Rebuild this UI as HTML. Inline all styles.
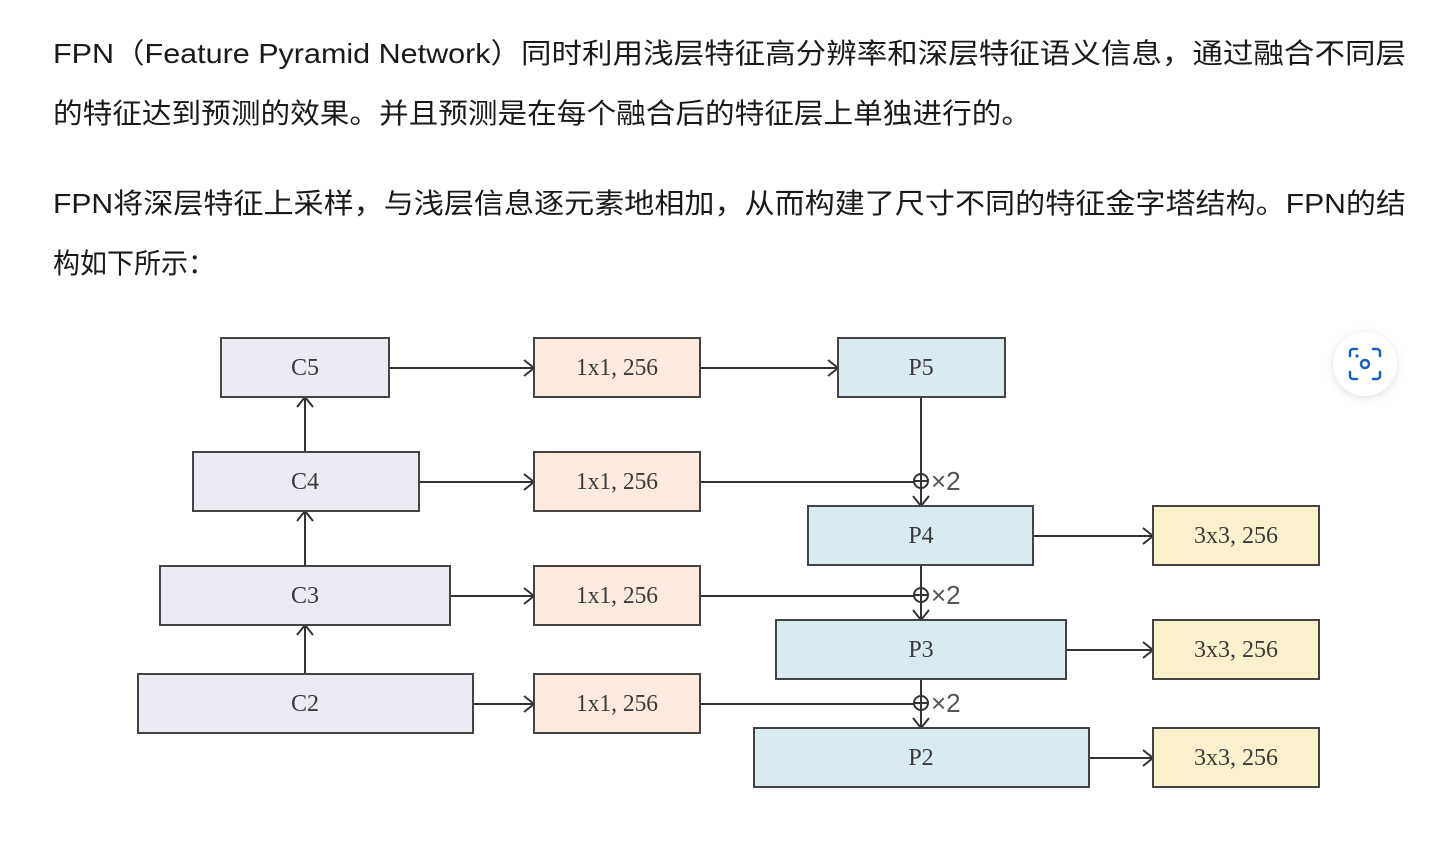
<!DOCTYPE html>
<html><head><meta charset="utf-8"><style>
html,body{margin:0;padding:0;background:#fff;}
svg{display:block;}
.t{font-family:"Liberation Sans","Noto Sans CJK SC",sans-serif;font-size:28px;fill:#1a1a1a;}
.d{font-family:"Liberation Serif","Noto Serif CJK SC",serif;font-size:24px;fill:#3a3a3a;}
</style></head><body>
<svg width="1446" height="842" viewBox="0 0 1446 842" xmlns="http://www.w3.org/2000/svg">
<defs><filter id="sh" x="-50%" y="-50%" width="200%" height="200%"><feDropShadow dx="0" dy="2" stdDeviation="4" flood-color="#000" flood-opacity="0.12"/></filter></defs>
<text class="t" x="53" y="63" textLength="1353" lengthAdjust="spacingAndGlyphs">FPN（Feature Pyramid Network）同时利用浅层特征高分辨率和深层特征语义信息，通过融合不同层</text>
<text class="t" x="53" y="123" textLength="978" lengthAdjust="spacingAndGlyphs">的特征达到预测的效果。并且预测是在每个融合后的特征层上单独进行的。</text>
<text class="t" x="53" y="213" textLength="1353" lengthAdjust="spacingAndGlyphs">FPN将深层特征上采样，与浅层信息逐元素地相加，从而构建了尺寸不同的特征金字塔结构。FPN的结</text>
<text class="t" x="53" y="273" textLength="162" lengthAdjust="spacingAndGlyphs">构如下所示：</text>

<g stroke="#333" stroke-width="2" fill="none">
<line x1="389" y1="368" x2="534" y2="368"/><polyline points="524,360 534,368 524,376"/>
<line x1="419" y1="482" x2="534" y2="482"/><polyline points="524,474 534,482 524,490"/>
<line x1="450" y1="596" x2="534" y2="596"/><polyline points="524,588 534,596 524,604"/>
<line x1="473" y1="704" x2="534" y2="704"/><polyline points="524,696 534,704 524,712"/>
<line x1="700" y1="368" x2="838" y2="368"/><polyline points="828,360 838,368 828,376"/>
<line x1="700" y1="482" x2="915" y2="482"/>
<line x1="700" y1="596" x2="915" y2="596"/>
<line x1="700" y1="704" x2="915" y2="704"/>
<line x1="921" y1="397" x2="921" y2="506"/><polyline points="913,496 921,506 929,496"/>
<line x1="921" y1="565" x2="921" y2="620"/><polyline points="913,610 921,620 929,610"/>
<line x1="921" y1="679" x2="921" y2="728"/><polyline points="913,718 921,728 929,718"/>
<circle cx="921" cy="481" r="7"/><line x1="914" y1="481" x2="928" y2="481"/>
<circle cx="921" cy="595" r="7"/><line x1="914" y1="595" x2="928" y2="595"/>
<circle cx="921" cy="703" r="7"/><line x1="914" y1="703" x2="928" y2="703"/>
<line x1="305" y1="452" x2="305" y2="397"/><polyline points="297,407 305,397 313,407"/>
<line x1="305" y1="566" x2="305" y2="511"/><polyline points="297,521 305,511 313,521"/>
<line x1="305" y1="674" x2="305" y2="625"/><polyline points="297,635 305,625 313,635"/>
<line x1="1033" y1="536" x2="1153" y2="536"/><polyline points="1143,528 1153,536 1143,544"/>
<line x1="1066" y1="650" x2="1153" y2="650"/><polyline points="1143,642 1153,650 1143,658"/>
<line x1="1089" y1="758" x2="1153" y2="758"/><polyline points="1143,750 1153,758 1143,766"/>
</g>
<g stroke="#444" stroke-width="2">
<rect x="221" y="338" width="168" height="59" fill="#ebebf3"/>
<rect x="193" y="452" width="226" height="59" fill="#ebebf3"/>
<rect x="160" y="566" width="290" height="59" fill="#ebebf3"/>
<rect x="138" y="674" width="335" height="59" fill="#ebebf3"/>
<rect x="534" y="338" width="166" height="59" fill="#fbeadd"/>
<rect x="534" y="452" width="166" height="59" fill="#fbeadd"/>
<rect x="534" y="566" width="166" height="59" fill="#fbeadd"/>
<rect x="534" y="674" width="166" height="59" fill="#fbeadd"/>
<rect x="838" y="338" width="167" height="59" fill="#daeaf1"/>
<rect x="808" y="506" width="225" height="59" fill="#daeaf1"/>
<rect x="776" y="620" width="290" height="59" fill="#daeaf1"/>
<rect x="754" y="728" width="335" height="59" fill="#daeaf1"/>
<rect x="1153" y="506" width="166" height="59" fill="#fbf0cc"/>
<rect x="1153" y="620" width="166" height="59" fill="#fbf0cc"/>
<rect x="1153" y="728" width="166" height="59" fill="#fbf0cc"/>
</g>
<g class="d" text-anchor="middle">
<text x="305" y="375">C5</text><text x="305" y="489">C4</text><text x="305" y="603">C3</text><text x="305" y="711">C2</text>
<text x="617" y="375" textLength="82" lengthAdjust="spacingAndGlyphs">1x1, 256</text><text x="617" y="489" textLength="82" lengthAdjust="spacingAndGlyphs">1x1, 256</text><text x="617" y="603" textLength="82" lengthAdjust="spacingAndGlyphs">1x1, 256</text><text x="617" y="711" textLength="82" lengthAdjust="spacingAndGlyphs">1x1, 256</text>
<text x="921" y="375">P5</text><text x="921" y="543">P4</text><text x="921" y="657">P3</text><text x="921" y="765">P2</text>
<text x="1236" y="543" textLength="84" lengthAdjust="spacingAndGlyphs">3x3, 256</text><text x="1236" y="657" textLength="84" lengthAdjust="spacingAndGlyphs">3x3, 256</text><text x="1236" y="765" textLength="84" lengthAdjust="spacingAndGlyphs">3x3, 256</text>
</g>
<g style="font-family:'Liberation Sans',sans-serif;font-size:26px;fill:#555">
<text x="931" y="490">×2</text><text x="931" y="604">×2</text><text x="931" y="712">×2</text>
</g>
<circle cx="1365" cy="364" r="32" fill="#fff" filter="url(#sh)"/>
<g stroke="#1a5fc2" stroke-width="2.5" fill="none" stroke-linecap="round">
<path d="M1350,356 v-4 a3,3 0 0 1 3,-3 h4"/>
<path d="M1373,349 h4 a3,3 0 0 1 3,3 v4"/>
<path d="M1350,372 v4 a3,3 0 0 0 3,3 h4"/>
<path d="M1373,379 h4 a3,3 0 0 0 3,-3 v-4"/>
<circle cx="1365" cy="364" r="4"/>
</g>
<circle cx="1357" cy="356" r="1.6" fill="#1a5fc2"/>
</svg>
</body></html>
